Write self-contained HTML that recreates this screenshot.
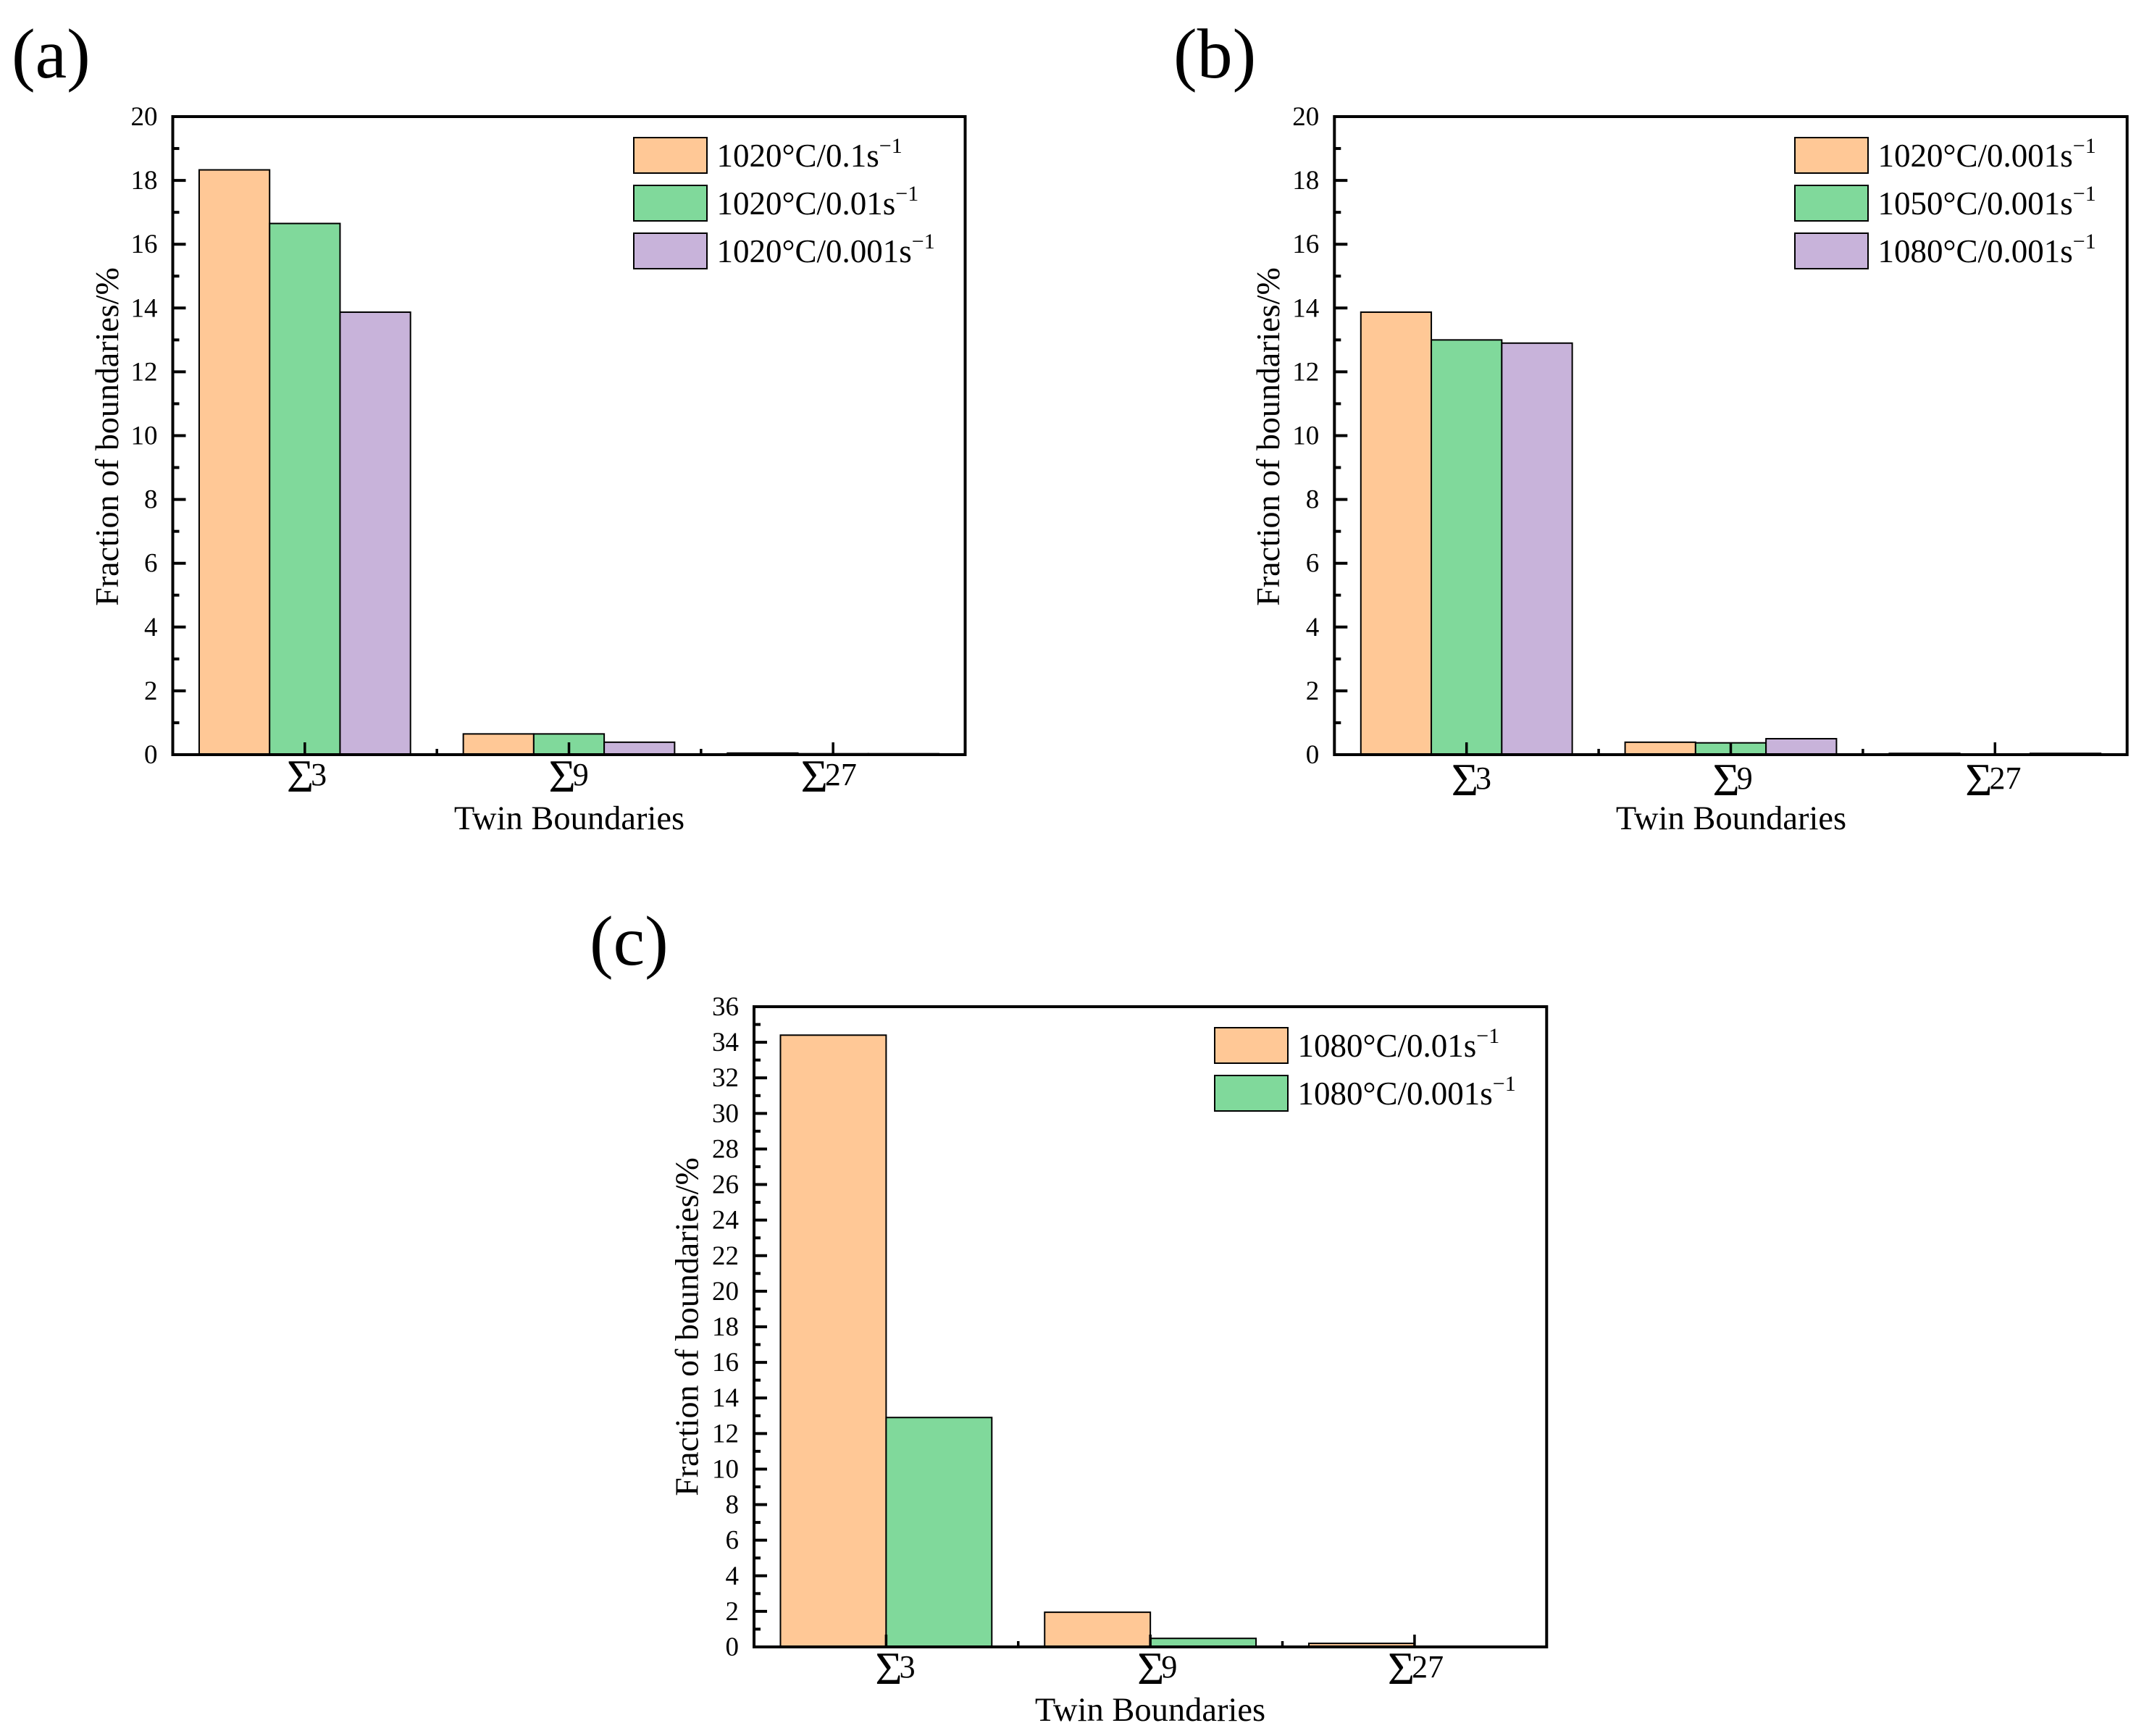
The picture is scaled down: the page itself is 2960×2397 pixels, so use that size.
<!DOCTYPE html>
<html lang="en">
<head>
<meta charset="utf-8">
<title>Fraction of twin boundaries</title>
<style>
  html, body { margin: 0; padding: 0; background: #fff; }
  svg { display: block; }
  text { font-family: "Liberation Serif", "Times New Roman", serif; fill: #000; }
</style>
</head>
<body>
<svg id="figure" xmlns="http://www.w3.org/2000/svg" width="2960" height="2397" viewBox="0 0 2960 2397">
  <rect x="0" y="0" width="2960" height="2397" fill="#ffffff"/>
</svg>
<script>
// ---- data ----
const categories = ["\u03A33", "\u03A39", "\u03A327"];

const seriesA1 = [18.33, 0.65, 0.05];
const seriesA2 = [16.65, 0.65, 0.03];
const seriesA3 = [13.87, 0.39, 0.03];

const seriesB1 = [13.87, 0.39, 0.04];
const seriesB2 = [13.0, 0.37, 0.0];
const seriesB3 = [12.9, 0.5, 0.04];

const seriesC1 = [34.4, 1.95, 0.2];
const seriesC2 = [12.9, 0.48, 0.0];

const legendA = ["1020\u00B0C/0.1s", "1020\u00B0C/0.01s", "1020\u00B0C/0.001s"];
const legendB = ["1020\u00B0C/0.001s", "1050\u00B0C/0.001s", "1080\u00B0C/0.001s"];
const legendC = ["1080\u00B0C/0.01s", "1080\u00B0C/0.001s"];

const yMaxAB = 20;
const yMaxC = 36;

const seriesColors = ["#FFC896", "#80D99B", "#C8B3DA"];

// ---- layout ----
const panelA = { id: "a", label: "(a)", labelX: 16, labelY: 107, left: 238.5, right: 1332.5, top: 161, bottom: 1042,
  yMax: yMaxAB, series: [seriesA1, seriesA2, seriesA3], legend: legendA,
  legendX: 875, legendY: 190, titleX: 163, titleY: 603, xTitleX: 786, xTitleY: 1145, catY: 1093, catDx: [-25, -28, -44.6] };
const panelB = { id: "b", label: "(b)", labelX: 1620, labelY: 107, left: 1842.3, right: 2936.7, top: 161, bottom: 1042,
  yMax: yMaxAB, series: [seriesB1, seriesB2, seriesB3], legend: legendB,
  legendX: 2478, legendY: 190, titleX: 1766, titleY: 603, xTitleX: 2390, xTitleY: 1145, catY: 1098, catDx: [-21, -25, -41] };
const panelC = { id: "c", label: "(c)", labelX: 814, labelY: 1332, left: 1041, right: 2135.3, top: 1390, bottom: 2274,
  yMax: yMaxC, series: [seriesC1, seriesC2], legend: legendC,
  legendX: 1677, legendY: 1419, titleX: 963.5, titleY: 1832, xTitleX: 1588, xTitleY: 2376, catY: 2325, catDx: [-15, -18, -37] };

const NS = "http://www.w3.org/2000/svg";
const figure = document.getElementById("figure");

function make(tag, attrs, parent) {
  const el = document.createElementNS(NS, tag);
  for (const k in attrs) el.setAttribute(k, attrs[k]);
  parent.appendChild(el);
  return el;
}

function drawPanel(p) {
  const g = make("g", {}, figure);
  
  

  // axis functions
  const yScale = v => p.bottom - (v / p.yMax) * (p.bottom - p.top);
  const step = (p.right - p.left) / categories.length;
  const xCenter = i => p.left + step * (i + 0.5);
  const barW = step * 0.8 / p.series.length;
  const xBar = (i, s) => xCenter(i) - step * 0.4 + s * barW;

  // panel letter
  const letter = make("text", { x: p.labelX, y: p.labelY, "font-size": 98 }, g);
  
  
  letter.textContent = p.label;

  // bars
  p.series.forEach((vals, s) => {
    vals.forEach((v, i) => {
      const bar = make("rect", {
        x: xBar(i, s), y: yScale(v), width: barW, height: p.bottom - yScale(v),
        fill: seriesColors[s], stroke: "#000", "stroke-width": 2
      }, g);
      
      
    });
  });

  // frame
  const frame = make("rect", {
    x: p.left, y: p.top, width: p.right - p.left, height: p.bottom - p.top,
    fill: "none", stroke: "#000", "stroke-width": 4
  }, g);
  
  

  // y ticks + labels
  for (let v = 0; v <= p.yMax; v++) {
    const major = v % 2 === 0;
    const y = yScale(v);
    const tick = make("line", {
      x1: p.left, x2: p.left + (major ? 18 : 9), y1: y, y2: y,
      stroke: "#000", "stroke-width": 4
    }, g);
    
    
    if (major) {
      const t = make("text", { x: p.left - 21, y: y + 12, "font-size": 37, "text-anchor": "end" }, g);
      
      
      t.textContent = String(v);
    }
  }

  // x ticks + labels
  categories.forEach((c, i) => {
    const x = xCenter(i);
    const tick = make("line", { x1: x, x2: x, y1: p.bottom, y2: p.bottom - 17, stroke: "#000", "stroke-width": 3.5 }, g);
    
    
    if (i > 0) {
      const mx = x - step / 2;
      const minor = make("line", { x1: mx, x2: mx, y1: p.bottom, y2: p.bottom - 8, stroke: "#000", "stroke-width": 3.5 }, g);
      
      
    }
    const t = make("text", { x: x + p.catDx[i], y: p.catY, "font-size": 64 }, g);
    
    
    t.appendChild(document.createTextNode(c.charAt(0)));
    const num = make("tspan", { dx: -4, dy: -9, "font-size": 44 }, t);
    
    
    num.textContent = c.slice(1);
  });

  // axis titles
  const xTitle = make("text", { x: p.xTitleX, y: p.xTitleY, "font-size": 46.5, "text-anchor": "middle" }, g);
  
  
  xTitle.textContent = "Twin Boundaries";

  const yTitle = make("text", {
    x: 0, y: 0, "font-size": 46, "text-anchor": "middle",
    transform: "translate(" + p.titleX + "," + p.titleY + ") rotate(-90)"
  }, g);
  
  
  yTitle.textContent = "Fraction of boundaries/%";

  // legend
  p.legend.forEach((name, s) => {
    const ly = p.legendY + s * 66;
    const swatch = make("rect", {
      x: p.legendX, y: ly, width: 101, height: 49,
      fill: seriesColors[s], stroke: "#000", "stroke-width": 2
    }, g);
    
    
    const t = make("text", { x: p.legendX + 114.5, y: ly + 40, "font-size": 45 }, g);
    
    
    t.appendChild(document.createTextNode(name));
    const sup = make("tspan", { dy: -19, "font-size": 30 }, t);
    
    
    sup.textContent = "\u22121";
  });
}

drawPanel(panelA);
drawPanel(panelB);
drawPanel(panelC);
</script>
</body>
</html>
